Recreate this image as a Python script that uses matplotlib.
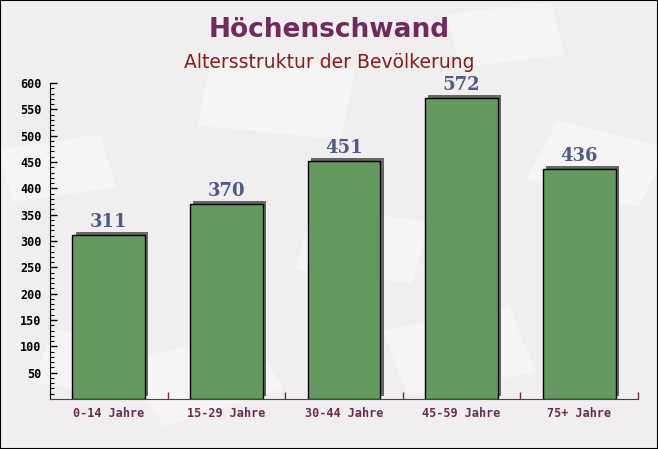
import matplotlib.pyplot as plt
import matplotlib.patheffects as pe
from matplotlib.patches import Rectangle
from matplotlib.ticker import MultipleLocator, FixedLocator

# data
categories = ['0-14 Jahre', '15-29 Jahre', '30-44 Jahre', '45-59 Jahre', '75+ Jahre']
values = [311, 370, 451, 572, 436]
title = 'Höchenschwand'
subtitle = 'Altersstruktur der Bevölkerung'

bg = '#f1eef0'
fig = plt.figure(figsize=(6.58, 4.49), dpi=100, facecolor=bg)

# faint envelope-like decoration in the background
deco = [(0.02, 0.55, 0.16, 0.12, 12), (0.30, 0.72, 0.22, 0.16, -8),
        (0.62, 0.12, 0.20, 0.15, 15), (0.80, 0.60, 0.18, 0.14, -20),
        (0.25, 0.05, 0.20, 0.15, 25), (0.45, 0.40, 0.18, 0.14, -10),
        (0.05, 0.15, 0.14, 0.12, -15), (0.70, 0.85, 0.16, 0.12, 10)]
for dx, dy, w, h, ang in deco:
    fig.patches.append(Rectangle((dx, dy), w, h, angle=ang, transform=fig.transFigure,
                                 facecolor='white', alpha=0.4, edgecolor='none', zorder=-5))
fig.patches.append(Rectangle((0, 0), 1, 1, transform=fig.transFigure,
                             fill=False, edgecolor='black', linewidth=1.5, zorder=10))

ax = fig.add_axes([50 / 658, 1 - 399 / 449, 588 / 658, 316 / 449])
ax.set_facecolor('none')

x = list(range(len(categories)))
shadow = [pe.SimplePatchShadow(offset=(2.3, 2.3), shadow_rgbFace='#505050', alpha=0.85),
          pe.Normal()]
bars = ax.bar(x, values, width=0.62, color='#64995f', edgecolor='black',
              linewidth=1.0, path_effects=shadow, zorder=3)

for xi, v in zip(x, values):
    ax.annotate(str(v), (xi, v), xytext=(0, 3), textcoords='offset points',
                ha='center', va='bottom', fontsize=13, fontweight='bold',
                family='DejaVu Serif', color='#4f5a86', zorder=4)

ax.set_xlim(-0.5, len(categories) - 0.5)
ax.set_ylim(0, 600)

ax.yaxis.set_major_locator(FixedLocator(range(50, 601, 50)))
ax.yaxis.set_minor_locator(MultipleLocator(10))
ax.tick_params(axis='y', which='major', direction='in', length=5, width=1,
               labelsize=8.5, labelcolor='black', pad=6)
ax.tick_params(axis='y', which='minor', direction='in', length=3, width=0.8)
for lab in ax.get_yticklabels():
    lab.set_family('DejaVu Sans Mono')
    lab.set_fontweight('bold')

ax.set_xticks(x)
ax.set_xticklabels(categories, family='DejaVu Sans Mono', fontweight='bold',
                   fontsize=8.5, color='#6b2b50')
ax.xaxis.set_minor_locator(FixedLocator([i + 0.5 for i in x]))
ax.tick_params(axis='x', which='major', length=0, pad=6)
ax.tick_params(axis='x', which='minor', direction='in', length=5, width=1,
               color='#6b3050', bottom=True)

ax.spines['top'].set_visible(False)
ax.spines['right'].set_visible(False)
ax.spines['bottom'].set_color('#6b3050')
ax.spines['left'].set_color('black')

fig.text(0.5, 1 - 30 / 449, title, ha='center', va='center', fontsize=19,
         fontweight='bold', color='#722a5a')
fig.text(0.5, 1 - 62 / 449, subtitle, ha='center', va='center', fontsize=13.5,
         color='#8b1a1a')

fig.savefig('out.png', dpi=100, facecolor=bg)
